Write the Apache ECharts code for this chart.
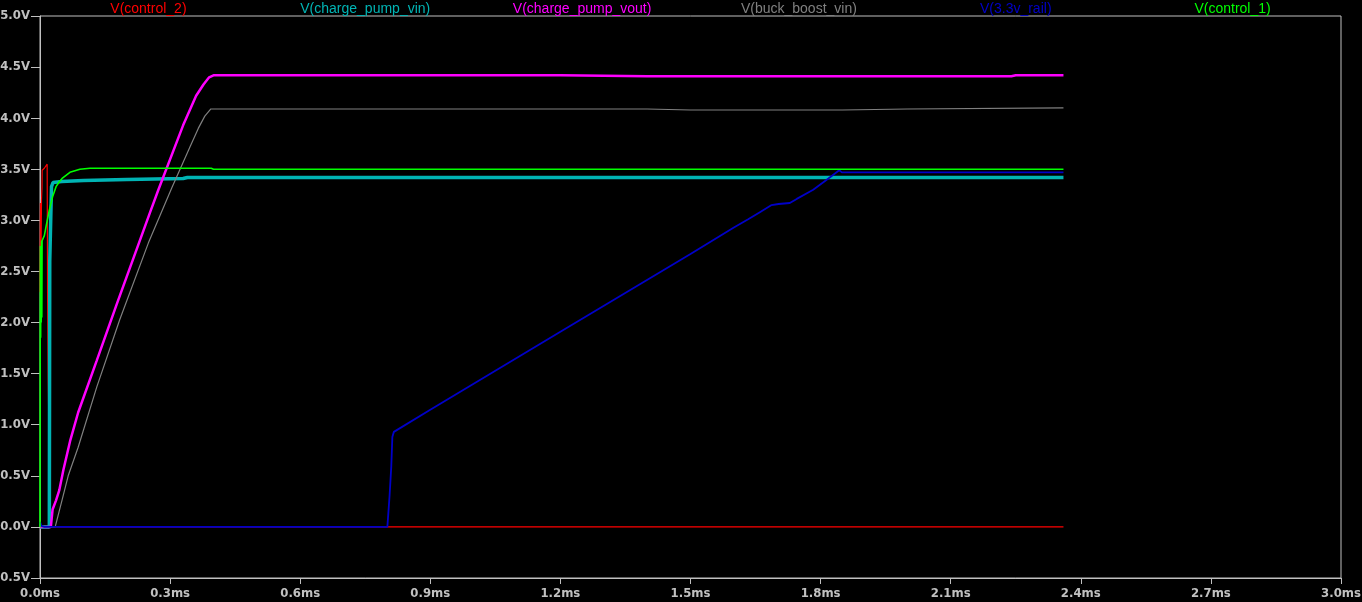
<!DOCTYPE html>
<html>
<head>
<meta charset="utf-8">
<script src="https://cdn.jsdelivr.net/npm/echarts@6/dist/echarts.min.js"></script>
<style>
  html, body { margin: 0; padding: 0; background: #000; }
  #main { width: 1362px; height: 602px; }
</style>
</head>
<body>
<div id="main"></div>
<script>
// trace names, colours (time in ms, value in V)
var traceNames = ['V(control_2)', 'V(charge_pump_vin)', 'V(charge_pump_vout)', 'V(buck_boost_vin)', 'V(3.3v_rail)', 'V(control_1)'];
var traceColors = ['#ff0000', '#00b4b4', '#ff00ff', '#808080', '#0000c8', '#00ff00'];

var control2 = [[0, 2.3], [0.001, 3.17], [0.002, 2.55], [0.0035, 3.2], [0.0046, 3.32], [0.005, 3.49], [0.01, 3.51],
  [0.0165, 3.55], [0.0175, 2.25], [0.019, 1.45], [0.0215, 0.6], [0.024, 0.02], [0.025, 0], [2.36, 0]];

var chargePumpVin = [[0, 0], [0.0215, 0], [0.0225, 2.6], [0.0265, 3.33], [0.03, 3.37], [0.05, 3.38], [0.1, 3.39],
  [0.2, 3.40], [0.33, 3.41], [0.34, 3.42], [2.36, 3.42]];

var chargePumpVout = [[0, 0], [0.025, 0], [0.029, 0.17], [0.037, 0.26], [0.0445, 0.36], [0.054, 0.56], [0.07, 0.85],
  [0.088, 1.12], [0.131, 1.63], [0.177, 2.18], [0.254, 3.08], [0.273, 3.30], [0.33, 3.93], [0.36, 4.22],
  [0.377, 4.33], [0.39, 4.40], [0.40, 4.42], [1.2, 4.42], [1.4, 4.41], [2.24, 4.41], [2.25, 4.42], [2.36, 4.42]];

var buckBoostVin = [[0, 0], [0.035, 0], [0.0507, 0.26], [0.065, 0.5], [0.088, 0.78], [0.131, 1.37], [0.184, 2.03],
  [0.25, 2.78], [0.304, 3.32], [0.346, 3.72], [0.365, 3.9], [0.38, 4.02], [0.394, 4.09], [1.4, 4.09], [1.5, 4.08],
  [1.85, 4.08], [2.0, 4.09], [2.36, 4.10]];

var rail3v3 = [[0, 0.05], [0.003, 0.01], [0.01, 0], [0.801, 0], [0.806, 0.3], [0.81, 0.59], [0.8125, 0.88],
  [0.816, 0.93], [0.8186, 0.94], [0.899, 1.145], [1.2, 1.91], [1.5, 2.67], [1.6, 2.93], [1.633, 3.01],
  [1.66, 3.08], [1.687, 3.15], [1.703, 3.16], [1.729, 3.17], [1.745, 3.21], [1.783, 3.30], [1.818, 3.41],
  [1.843, 3.49], [1.849, 3.47], [2.36, 3.47]];

var control1 = [[0, 0], [0.0005, 2.0], [0.001, 2.75], [0.0015, 1.85], [0.002, 2.7], [0.0028, 2.0], [0.0035, 2.8],
  [0.0042, 2.05], [0.0048, 2.8], [0.01, 2.85], [0.0145, 2.95], [0.0215, 3.1], [0.029, 3.23], [0.037, 3.33],
  [0.045, 3.38], [0.051, 3.41], [0.069, 3.47], [0.092, 3.50], [0.115, 3.51], [0.395, 3.51], [0.40, 3.50],
  [2.36, 3.50]];

var traceData = [control2, chargePumpVin, chargePumpVout, buckBoostVin, rail3v3, control1];
var traceWidths = [1.2, 3.5, 2.5, 1.2, 1.8, 1.6];

var chart = echarts.init(document.getElementById('main'));

var gridLeft = 40, gridRight = 21, plotWidth = 1362 - gridLeft - gridRight;
var axisGrey = '#c0c0c0';
var tickFont = 'DejaVu Sans Condensed, DejaVu Sans';

// trace names across the top, evenly spread over the plot width
var titles = traceNames.map(function(name, i) {
    return {
        type: 'text',
        x: gridLeft + plotWidth / 6 * (i + 0.5),
        y: 9,
        style: {
            text: name,
            fill: traceColors[i],
            font: '14px "Liberation Sans"',
            textAlign: 'center',
            textVerticalAlign: 'middle'
        }
    };
});

var series = traceData.map(function(d, i) {
    return {
        name: traceNames[i],
        type: 'line',
        data: d,
        showSymbol: false,
        symbol: 'none',
        animation: false,
        lineStyle: { color: traceColors[i], width: traceWidths[i] },
        itemStyle: { color: traceColors[i] }
    };
});

chart.setOption({
    backgroundColor: '#000000',
    animation: false,
    graphic: titles,
    grid: {
        left: gridLeft, right: gridRight, top: 16, bottom: 24,
        containLabel: false, outerBoundsMode: 'none',
        show: true, borderColor: axisGrey, borderWidth: 1, backgroundColor: 'transparent'
    },
    xAxis: {
        type: 'value',
        min: 0, max: 3, interval: 0.3,
        axisLine: { show: true, onZero: false, lineStyle: { color: axisGrey } },
        axisTick: { show: true, length: 6, lineStyle: { color: axisGrey } },
        splitLine: { show: false },
        axisLabel: {
            color: axisGrey, fontFamily: tickFont, fontWeight: 'bold', fontSize: 13, margin: 9,
            formatter: function(v) { return v.toFixed(1) + 'ms'; }
        }
    },
    yAxis: {
        type: 'value',
        min: -0.5, max: 5, interval: 0.5,
        axisLine: { show: true, lineStyle: { color: axisGrey } },
        axisTick: { show: true, length: 9, lineStyle: { color: axisGrey } },
        splitLine: { show: false },
        axisLabel: {
            color: axisGrey, fontFamily: tickFont, fontWeight: 'bold', fontSize: 13, margin: 10,
            formatter: function(v) { return v.toFixed(1) + 'V'; }
        }
    },
    series: series
});
</script>
</body>
</html>
